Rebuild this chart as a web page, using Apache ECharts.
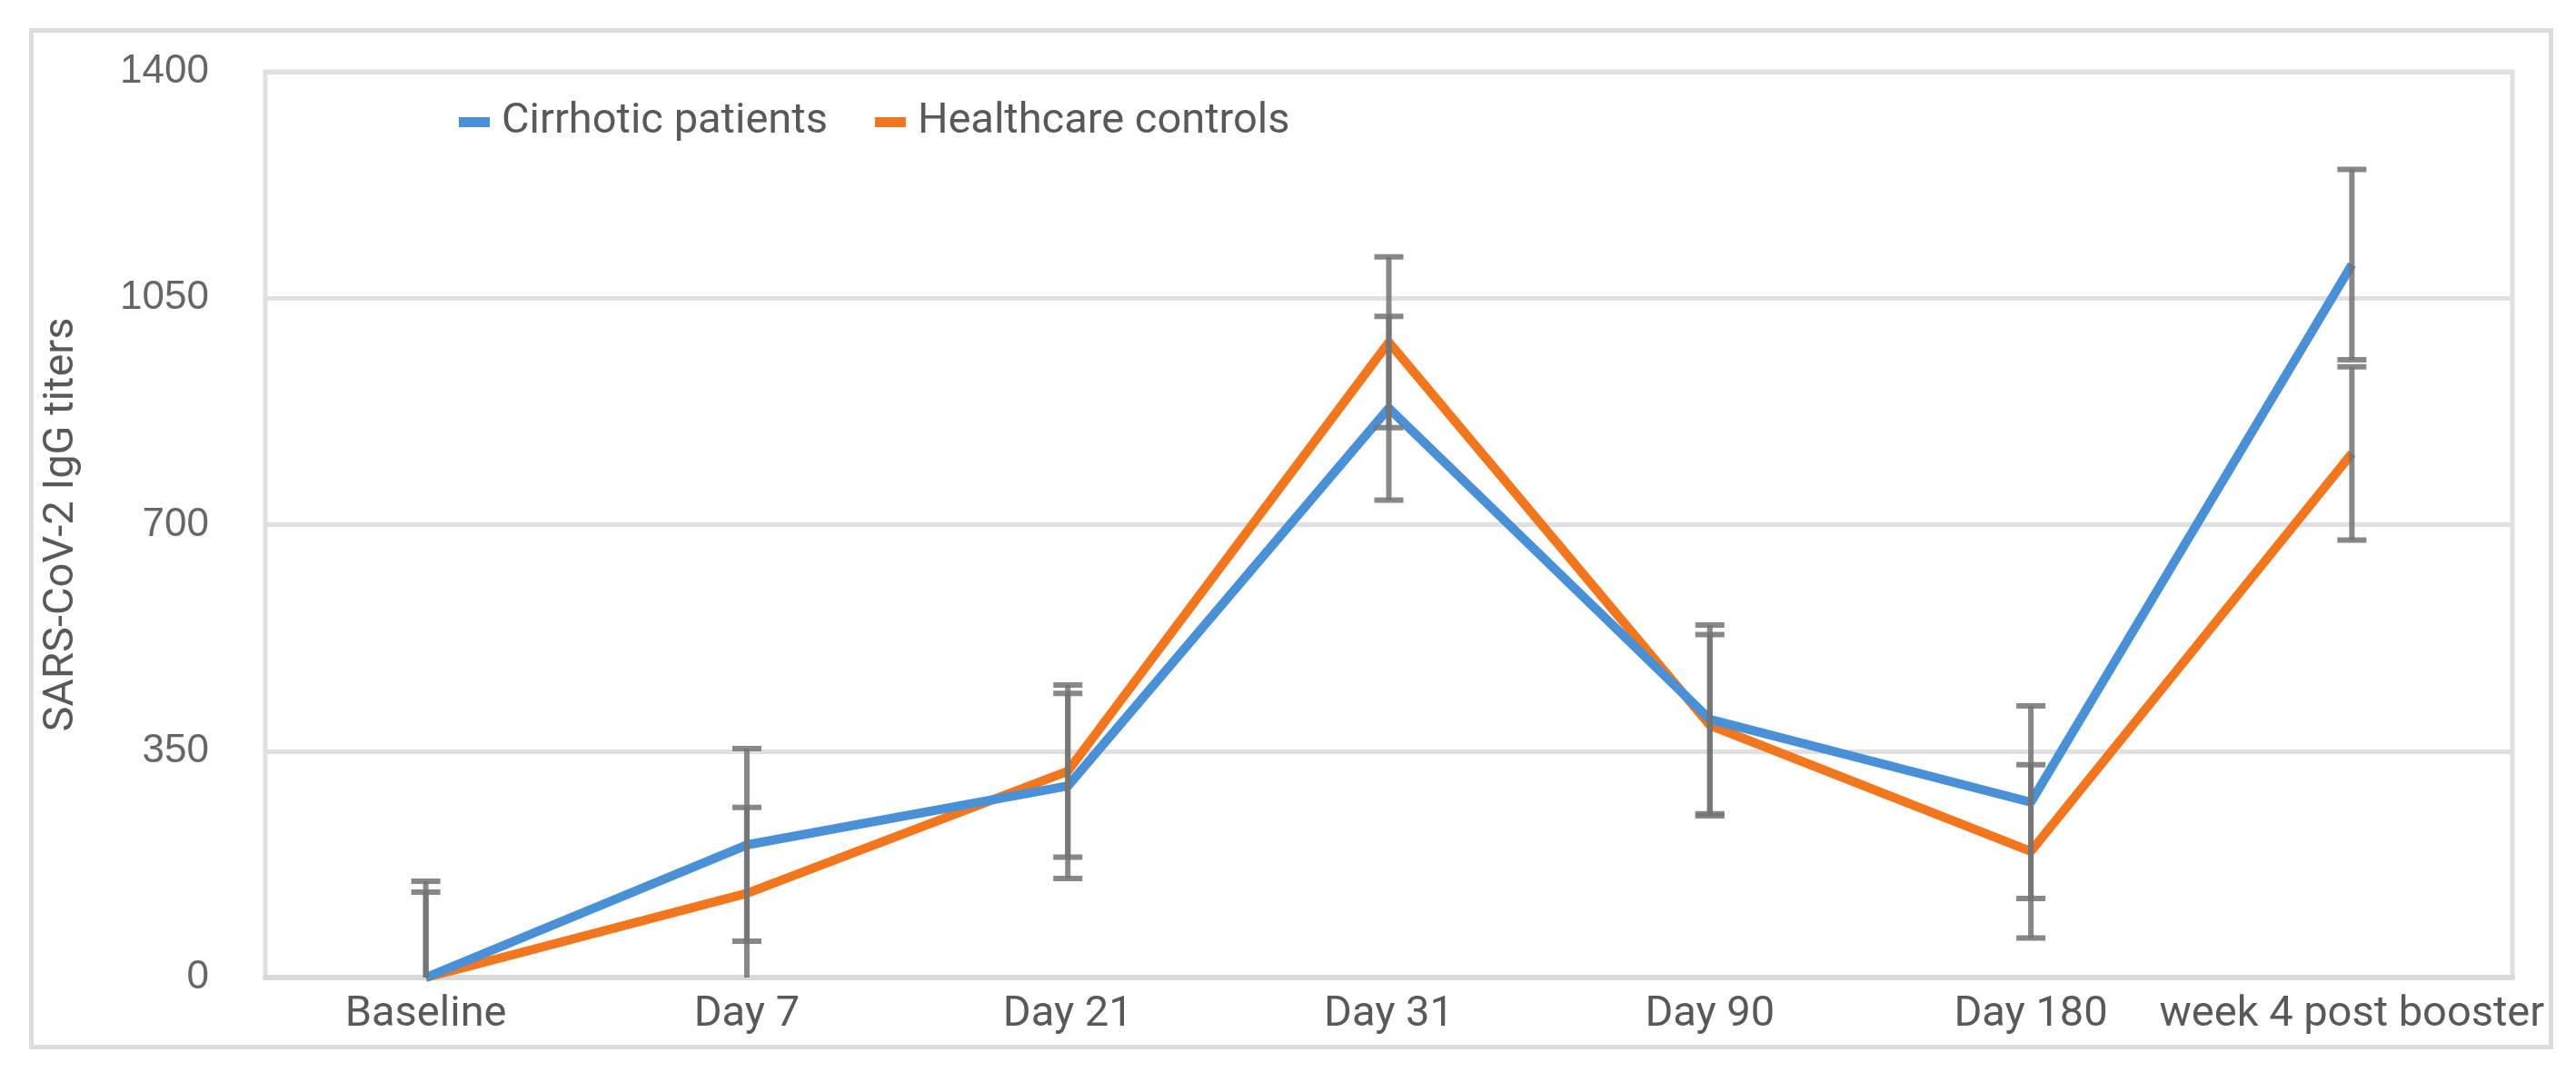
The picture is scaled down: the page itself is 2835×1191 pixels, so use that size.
<!DOCTYPE html>
<html>
<head>
<meta charset="utf-8">
<script src="https://cdn.jsdelivr.net/npm/echarts@6/dist/echarts.min.js"></script>
<style>html,body{margin:0;padding:0;background:#fff}#c{width:2835px;height:1191px}</style>
</head>
<body>
<div id="c"></div>
<script>
const categories = ['Baseline', 'Day 7', 'Day 21', 'Day 31', 'Day 90', 'Day 180', 'week 4 post booster'];
const cirrhotic = [0, 205, 296, 880, 399, 271, 1102];
const cirrhoticErr = [149, 149, 143, 142, 146, 149, 147];
const controls = [0, 130, 319, 982, 390, 195, 810];
const controlsErr = [132, 133, 133, 132, 140, 134, 134];
const yTicks = [0, 350, 700, 1050, 1400];
const seriesNames = ['Cirrhotic patients', 'Healthcare controls'];

const BLUE = '#4A90D6', ORANGE = '#F2761E';
const narrow = '"Liberation Sans Narrow", "Roboto", sans-serif';

function errData(vals, errs) {
  return vals.map((v, i) => [i, v - errs[i], v + errs[i]]);
}
function errRender(params, api) {
  const i = api.value(0);
  let lo = api.value(1), hi = api.value(2);
  const loClipped = lo < 0;
  if (loClipped) lo = 0;
  const pHi = api.coord([i, hi]);
  const pLo = api.coord([i, lo]);
  const cap = 16;
  const style = { stroke: 'rgba(115,115,115,0.85)', lineWidth: 6 };
  const children = [
    { type: 'line', shape: { x1: pHi[0], y1: pHi[1], x2: pLo[0], y2: pLo[1] }, style },
    { type: 'line', shape: { x1: pHi[0] - cap, y1: pHi[1], x2: pHi[0] + cap, y2: pHi[1] }, style }
  ];
  if (!loClipped) children.push({ type: 'line', shape: { x1: pLo[0] - cap, y1: pLo[1], x2: pLo[0] + cap, y2: pLo[1] }, style });
  return { type: 'group', children };
}

const chart = echarts.init(document.getElementById('c'));
chart.setOption({
  animation: false,
  backgroundColor: '#fff',
  graphic: [{
    type: 'rect', left: 32, top: 31, shape: { width: 2773, height: 1119 },
    style: { fill: 'none', stroke: '#dcdcdc', lineWidth: 5 }, silent: true, z: -1
  }],
  grid: { left: 292, right: 70, top: 79, bottom: 115, show: true, borderColor: '#e0e0e0', borderWidth: 5 },
  legend: {
    left: 500, top: 106, itemWidth: 34, itemHeight: 11, itemGap: 52,
    icon: 'rect',
    data: seriesNames,
    textStyle: { fontFamily: narrow, fontSize: 47, color: '#595959', padding: [0, 0, 0, 8] }
  },
  xAxis: {
    type: 'category', data: categories, boundaryGap: true,
    axisLine: { lineStyle: { color: '#d9d9d9', width: 6 } },
    axisTick: { show: false },
    axisLabel: { fontFamily: narrow, fontSize: 47, color: '#595959', margin: 18, interval: 0 }
  },
  yAxis: {
    type: 'value', min: 0, max: 1400, interval: 350,
    name: 'SARS-CoV-2 IgG titers', nameLocation: 'middle', nameGap: 200,
    nameTextStyle: { fontFamily: narrow, fontSize: 47, color: '#595959' },
    axisLine: { show: false }, axisTick: { show: false },
    axisLabel: { fontFamily: '"Liberation Sans", sans-serif', fontSize: 44, color: '#666666', margin: 62,
      formatter: v => yTicks.includes(v) ? String(v) : '' },
    splitLine: { lineStyle: { color: '#e0e0e0', width: 5 } }
  },
  series: [
    { name: seriesNames[0], type: 'line', data: cirrhotic, showSymbol: false, symbol: 'none',
      lineStyle: { color: BLUE, width: 10 }, itemStyle: { color: BLUE }, z: 3 },
    { name: seriesNames[1], type: 'line', data: controls, showSymbol: false, symbol: 'none',
      lineStyle: { color: ORANGE, width: 10 }, itemStyle: { color: ORANGE }, z: 2 },
    { type: 'custom', renderItem: errRender, data: errData(cirrhotic, cirrhoticErr), z: 5, silent: true },
    { type: 'custom', renderItem: errRender, data: errData(controls, controlsErr), z: 5, silent: true }
  ]
});
</script>
</body>
</html>
